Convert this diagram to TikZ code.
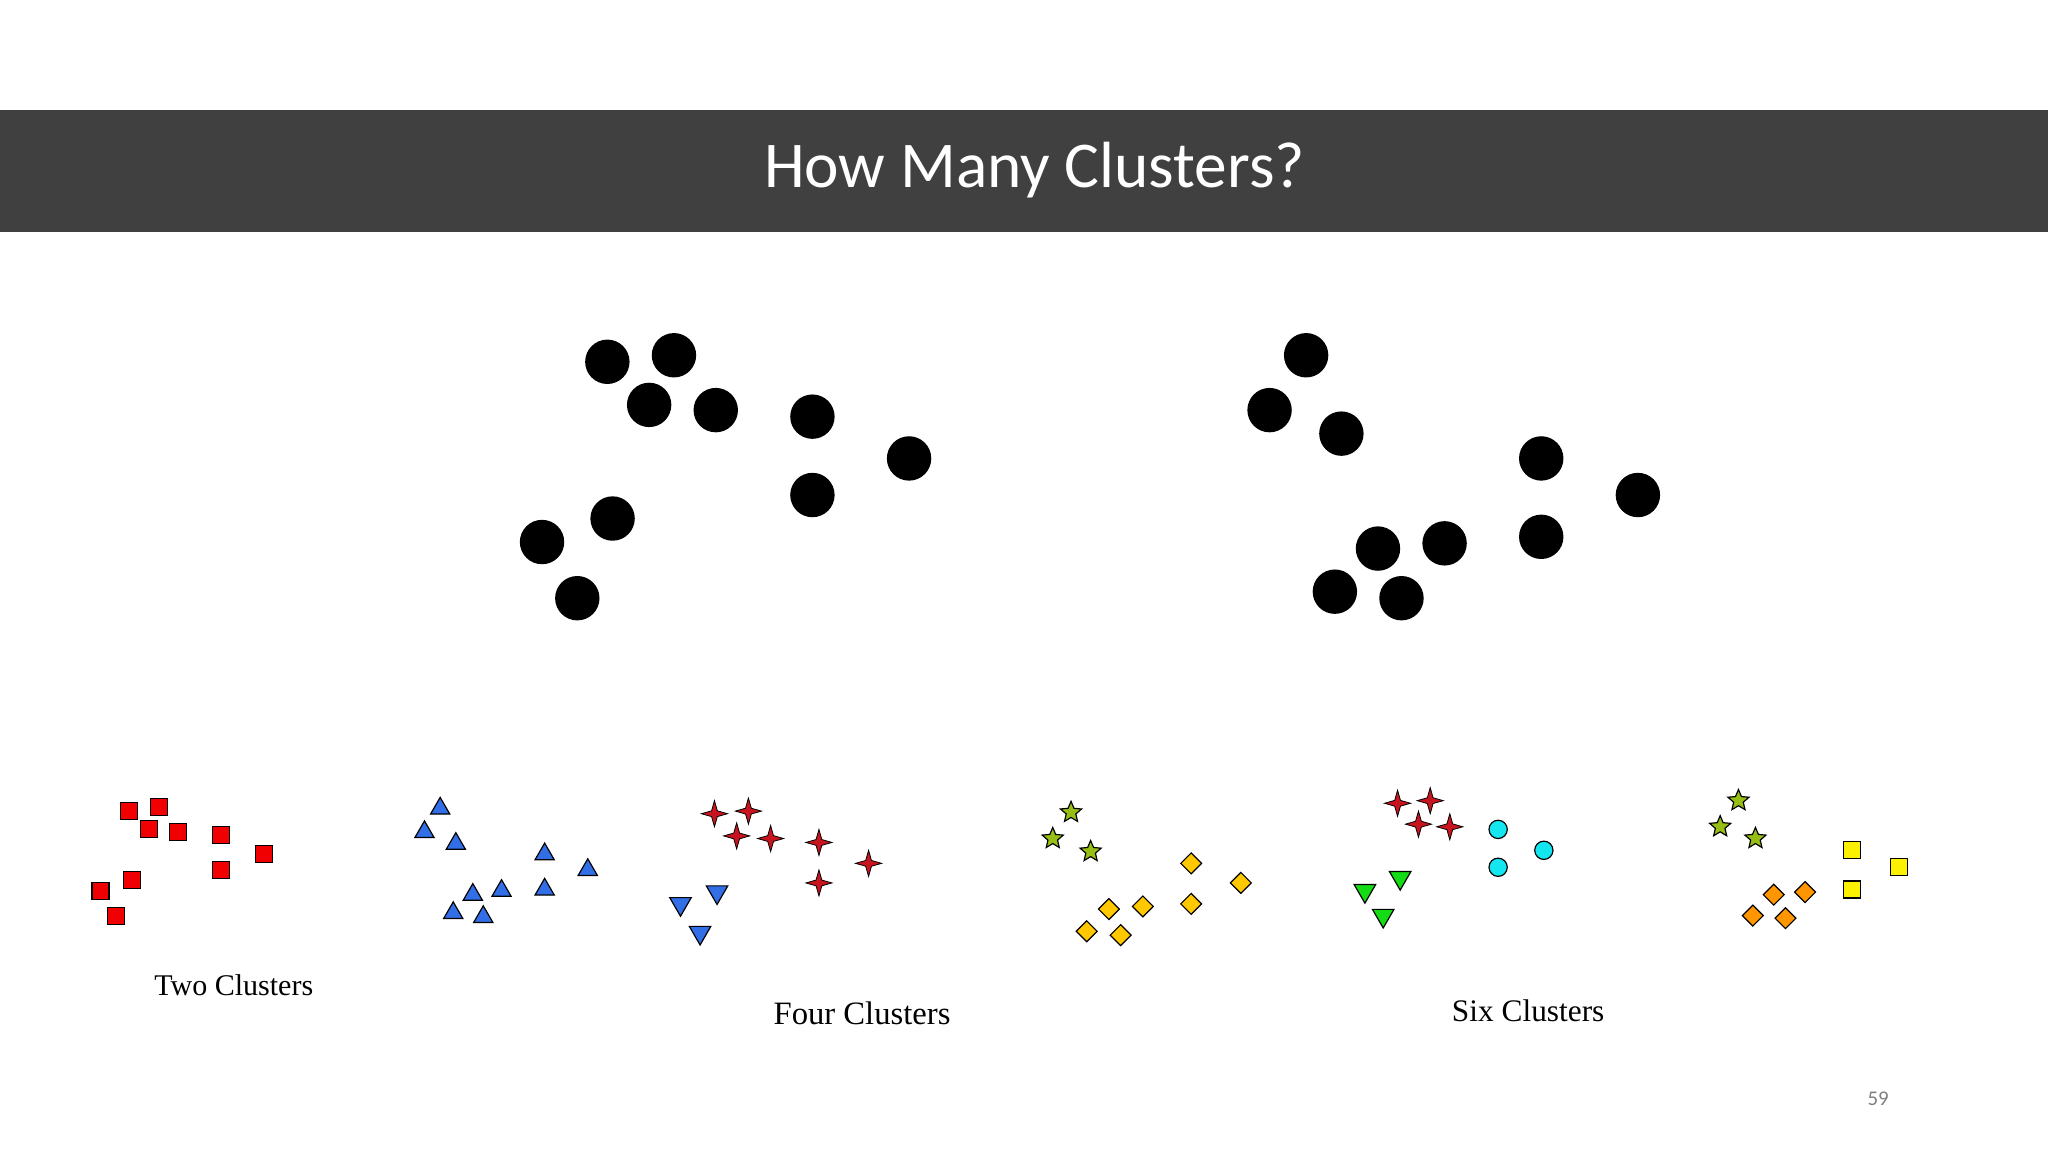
\documentclass[tikz,border=0pt]{standalone}
\usepackage{fontspec}
\setmainfont{Liberation Serif}
\newfontfamily\calib{Carlito}
\usetikzlibrary{shapes.geometric}
\definecolor{barc}{RGB}{64,64,64}
\definecolor{sqred}{RGB}{240,0,0}
\definecolor{tblue}{RGB}{50,110,230}
\definecolor{sred}{RGB}{200,20,30}
\definecolor{sgreen}{RGB}{150,190,20}
\definecolor{dyel}{RGB}{255,200,0}
\definecolor{cyanc}{RGB}{20,230,240}
\definecolor{tgreen}{RGB}{20,220,20}
\definecolor{ysq}{RGB}{250,240,0}
\definecolor{dorg}{RGB}{255,150,0}
\tikzset{
 mk/.style={draw=black,line width=0.9pt,inner sep=0pt,outer sep=0pt},
 bigdot/.style={circle,fill=black,minimum size=34pt,inner sep=0pt},
 rsq/.style={mk,rectangle,fill=sqred,minimum size=13pt},
 ysqr/.style={mk,rectangle,fill=ysq,minimum size=13pt},
 tup/.style={mk,regular polygon,regular polygon sides=3,fill=tblue,minimum size=17pt},
 tdn/.style={mk,regular polygon,regular polygon sides=3,shape border rotate=180,minimum size=19pt},
 st4/.style={mk,star,star points=4,star point ratio=3.2,fill=sred,minimum size=20pt,line width=0.6pt},
 st5/.style={mk,star,star points=5,star point ratio=2.2,fill=sgreen,minimum size=17pt},
 dia/.style={mk,diamond,aspect=0.85,minimum size=16pt},
 cc/.style={mk,circle,fill=cyanc,minimum size=14pt},
 lbl/.style={font=\fontsize{23}{26}\selectfont}
}
\begin{document}
\begin{tikzpicture}[x=1pt,y=-1pt]
\useasboundingbox (0,0) rectangle (1568,882);
\fill[white] (0,0) rectangle (1568,882);
\fill[barc] (0,84) rectangle (1568,178);
\node[text=white,font=\calib\fontsize{50}{56}\selectfont] (title) at (792,130) {How Many Clusters?};
\foreach \x/\y [count=\i] in {465/277,516/272,497/310,548/314,622/319,696/351,622/379,469/397,415/415,442/458}
  \node[bigdot] (a\i) at (\x,\y) {};
\foreach \x/\y [count=\i] in {1000/272,972/314,1027/332,1180/351,1254/379,1180/411,1055/420,1106/416,1022/453,1073/458}
  \node[bigdot] (b\i) at (\x,\y) {};
% Two clusters
\foreach \x/\y [count=\i] in {99/621,122/618,114/635,136/637,169/639,202/654,169/666,101/674,77/682,89/701}
  \node[rsq] (r\i) at (\x,\y) {};
\foreach \x/\y [count=\i] in {337/619,325/637,349/646,417/654,450/666,417/681,362/685,384/682,347/699,370/702}
  \node[tup] (t\i) at (\x,\y) {};
% Four clusters
\foreach \x/\y [count=\i] in {547/623,573/621,564/640,590/642,627/645,665/661,627/676}
  \node[st4] (fs\i) at (\x,\y) {};
\foreach \x/\y [count=\i] in {521/692,549/683,536/714}
  \node[tdn,fill=tblue] (fd\i) at (\x,\y) {};
\foreach \x/\y [count=\i] in {820/622,806/642,835/652}
  \node[st5] (fg\i) at (\x,\y) {};
\foreach \x/\y [count=\i] in {912/661,950/676,912/692,849/696,875/694,832/713,858/716}
  \node[dia,fill=dyel] (fy\i) at (\x,\y) {};
% Six clusters
\foreach \x/\y [count=\i] in {1070/615,1095/613,1086/631,1110/633}
  \node[st4] (ss\i) at (\x,\y) {};
\foreach \x/\y [count=\i] in {1147/635,1182/651,1147/664}
  \node[cc] (sc\i) at (\x,\y) {};
\foreach \x/\y [count=\i] in {1045/682,1072/672,1059/701}
  \node[tdn,fill=tgreen] (sd\i) at (\x,\y) {};
\foreach \x/\y [count=\i] in {1331/613,1317/633,1344/642}
  \node[st5] (sg\i) at (\x,\y) {};
\foreach \x/\y [count=\i] in {1418/651,1454/664,1418/681}
  \node[ysqr] (sy\i) at (\x,\y) {};
\foreach \x/\y [count=\i] in {1358/685,1382/683,1342/701,1367/703}
  \node[dia,fill=dorg] (so\i) at (\x,\y) {};
\node[lbl] (l2) at (179,754) {Two Clusters};
\node[lbl,font=\fontsize{25}{28}\selectfont] (l4) at (660,776) {Four Clusters};
\node[lbl,font=\fontsize{24}{27}\selectfont] (l6) at (1170,774) {Six Clusters};
\node[text=gray,font=\calib\fontsize{16}{18}\selectfont] (pg) at (1438,841) {59};
\end{tikzpicture}
\end{document}
